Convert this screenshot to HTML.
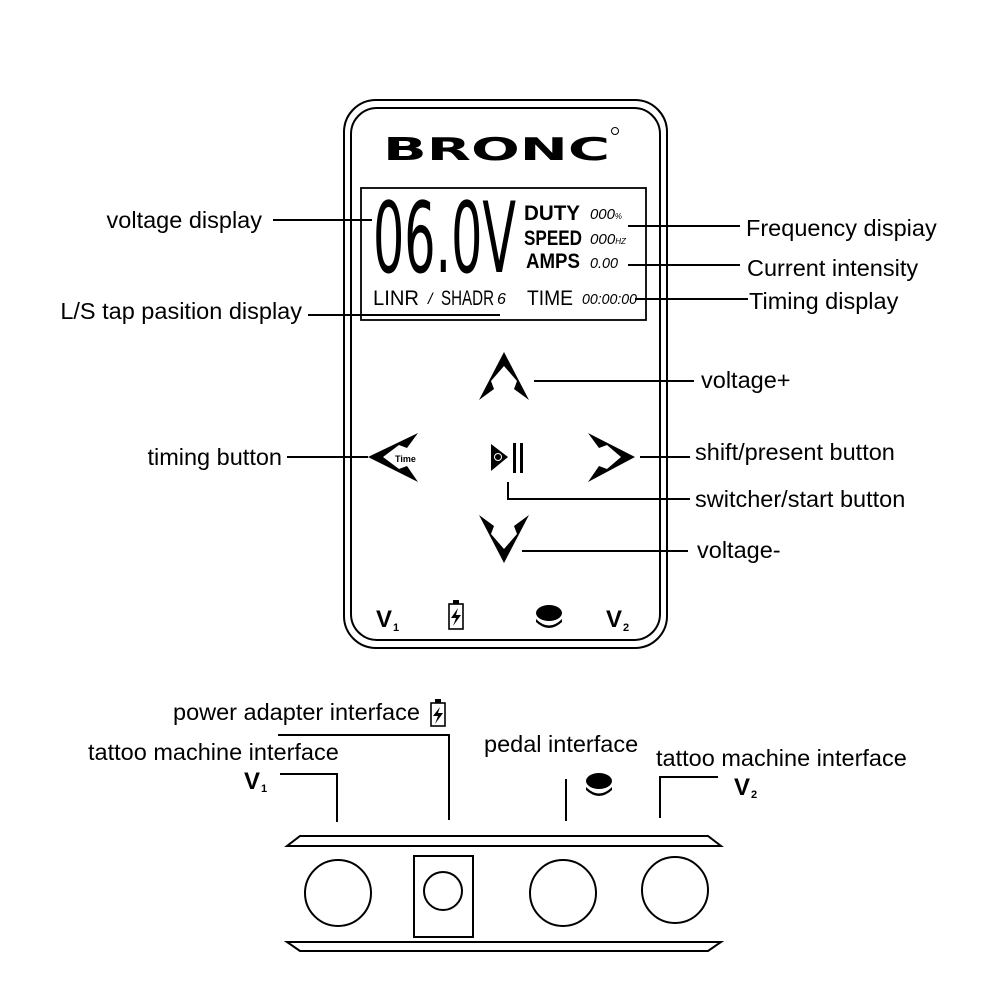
<!DOCTYPE html>
<html><head><meta charset="utf-8"><style>
html,body{margin:0;padding:0;background:#fff;width:1000px;height:1000px;overflow:hidden}
svg{display:block}
text{font-family:"Liberation Sans",Arial,sans-serif;fill:#000}
</style></head><body>
<svg width="1000" height="1000" viewBox="0 0 1000 1000" xmlns="http://www.w3.org/2000/svg">
<g fill="none" stroke="#000" stroke-width="2">
<rect x="344" y="100" width="323" height="548" rx="32"/>
<rect x="351" y="108" width="309" height="532" rx="26"/>
<rect x="361" y="188" width="285" height="132" stroke-width="1.8"/>
</g>
<!-- BRONC -->
<text x="383" y="160" font-size="31" font-weight="bold" textLength="227" lengthAdjust="spacingAndGlyphs" style="font-family:'DejaVu Sans',sans-serif">BRONC</text>
<circle cx="615" cy="131" r="3.5" fill="none" stroke="#000" stroke-width="1"/>
<!-- LCD -->
<text x="373" y="272" font-size="98" textLength="143" lengthAdjust="spacingAndGlyphs" style="font-family:'DejaVu Sans Condensed','DejaVu Sans',sans-serif">06.0V</text>
<g font-weight="bold" font-size="21">
<text x="524" y="220" textLength="56" lengthAdjust="spacingAndGlyphs">DUTY</text>
<text x="524" y="245" textLength="58" lengthAdjust="spacingAndGlyphs">SPEED</text>
<text x="526" y="268" textLength="54" lengthAdjust="spacingAndGlyphs">AMPS</text>
</g>
<g font-size="15" font-style="italic">
<text x="590" y="219" textLength="32" lengthAdjust="spacingAndGlyphs">000<tspan font-size="8">%</tspan></text>
<text x="590" y="244" textLength="36" lengthAdjust="spacingAndGlyphs">000<tspan font-size="8">HZ</tspan></text>
<text x="590" y="268" textLength="28" lengthAdjust="spacingAndGlyphs">0.00</text>
<text x="582" y="304" textLength="55" lengthAdjust="spacingAndGlyphs">00:00:00</text>
</g>
<g font-size="21">
<text x="373" y="305" textLength="46" lengthAdjust="spacingAndGlyphs">LINR</text>
<text x="428" y="304" font-size="16" font-style="italic">/</text>
<text x="441" y="305" textLength="53" lengthAdjust="spacingAndGlyphs">SHADR</text>
<text x="497" y="304" font-size="16" font-style="italic">6</text>
<text x="527" y="305" textLength="46" lengthAdjust="spacingAndGlyphs">TIME</text>
</g>
<!-- arrows -->
<g fill="#000">
<path d="M504 352 L529 400 L514 389 L517 381 L504 366 L491 381 L494 389 L479 400 Z"/>
<path d="M504 563 L529 515 L514 526 L517 534 L504 549 L491 534 L494 526 L479 515 Z"/>
<path d="M368 457 L418 433 L407 448 L399 445 L383 457 L399 469 L407 466 L418 482 Z"/>
<path d="M635 457 L588 433 L599 448 L607 445 L621 457 L607 469 L599 466 L588 482 Z"/>
<path d="M491 444 L508 457 L491 471 Z"/>
<rect x="513" y="443" width="3" height="30"/>
<rect x="520" y="443" width="3" height="30"/>
</g>
<circle cx="498" cy="457" r="3.5" fill="none" stroke="#fff" stroke-width="1"/>
<text x="395" y="462" font-size="9" font-weight="bold">Time</text>
<!-- bottom icons -->
<g font-weight="bold">
<text x="376" y="627" font-size="24">V</text><text x="393" y="631" font-size="11">1</text>
<text x="606" y="627" font-size="24">V</text><text x="623" y="631" font-size="11">2</text>
</g>
<rect x="449" y="604" width="14" height="25" fill="none" stroke="#000" stroke-width="1.6"/>
<rect x="453" y="600" width="6" height="4" fill="#000"/>
<path d="M458 608 L451 618 L456 618 L453 626 L461 615 L456 615 Z" fill="#000"/>
<ellipse cx="549" cy="613" rx="13" ry="8" fill="#000"/>
<path d="M536 619 Q549 632 562 619 L562 622 Q549 634 536 622 Z" fill="#000"/>
<!-- leader lines -->
<g stroke="#000" stroke-width="2" fill="none">
<line x1="273" y1="220" x2="372" y2="220"/>
<line x1="308" y1="315" x2="500" y2="315"/>
<line x1="628" y1="226" x2="740" y2="226"/>
<line x1="628" y1="265" x2="740" y2="265"/>
<line x1="635" y1="299" x2="748" y2="299"/>
<line x1="534" y1="381" x2="694" y2="381"/>
<line x1="287" y1="457" x2="368" y2="457"/>
<line x1="640" y1="457" x2="690" y2="457"/>
<polyline points="508,482 508,499 690,499"/>
<line x1="522" y1="551" x2="688" y2="551"/>
<polyline points="280,774 337,774 337,822"/>
<polyline points="278,735 449,735 449,820"/>
<line x1="566" y1="779" x2="566" y2="821"/>
<polyline points="660,818 660,777 718,777"/>
</g>
<g font-size="23.5">
<text x="262" y="228" text-anchor="end">voltage display</text>
<text x="302" y="319" text-anchor="end">L/S tap pasition display</text>
<text x="746" y="236">Frequency dispiay</text>
<text x="747" y="276">Current intensity</text>
<text x="749" y="309">Timing display</text>
<text x="701" y="388">voltage+</text>
<text x="282" y="465" text-anchor="end">timing button</text>
<text x="695" y="460">shift/present button</text>
<text x="695" y="507">switcher/start button</text>
<text x="697" y="558">voltage-</text>
<text x="173" y="720">power adapter interface</text>
<text x="88" y="760">tattoo machine interface</text>
<text x="484" y="752">pedal interface</text>
<text x="656" y="766">tattoo machine interface</text>
</g>
<!-- label icons -->
<rect x="431" y="703" width="14" height="23" fill="none" stroke="#000" stroke-width="1.6"/>
<rect x="435" y="699" width="6" height="4" fill="#000"/>
<path d="M440 707 L433 716 L438 716 L435 724 L443 713 L438 713 Z" fill="#000"/>
<g font-weight="bold">
<text x="244" y="789" font-size="24">V</text><text x="261" y="792" font-size="11">1</text>
<text x="734" y="795" font-size="24">V</text><text x="751" y="798" font-size="11">2</text>
</g>
<ellipse cx="599" cy="781" rx="13" ry="8" fill="#000"/>
<path d="M586 787 Q599 800 612 787 L612 790 Q599 802 586 790 Z" fill="#000"/>
<!-- bottom panel -->
<g fill="none" stroke="#000" stroke-width="2">
<path d="M300 836 L708 836 L721 846 L287 846 Z"/>
<path d="M287 942 L721 942 L708 951 L300 951 Z"/>
<circle cx="338" cy="893" r="33"/>
<rect x="414" y="856" width="59" height="81"/>
<circle cx="443" cy="891" r="19"/>
<circle cx="563" cy="893" r="33"/>
<circle cx="675" cy="890" r="33"/>
</g>
</svg>
</body></html>
